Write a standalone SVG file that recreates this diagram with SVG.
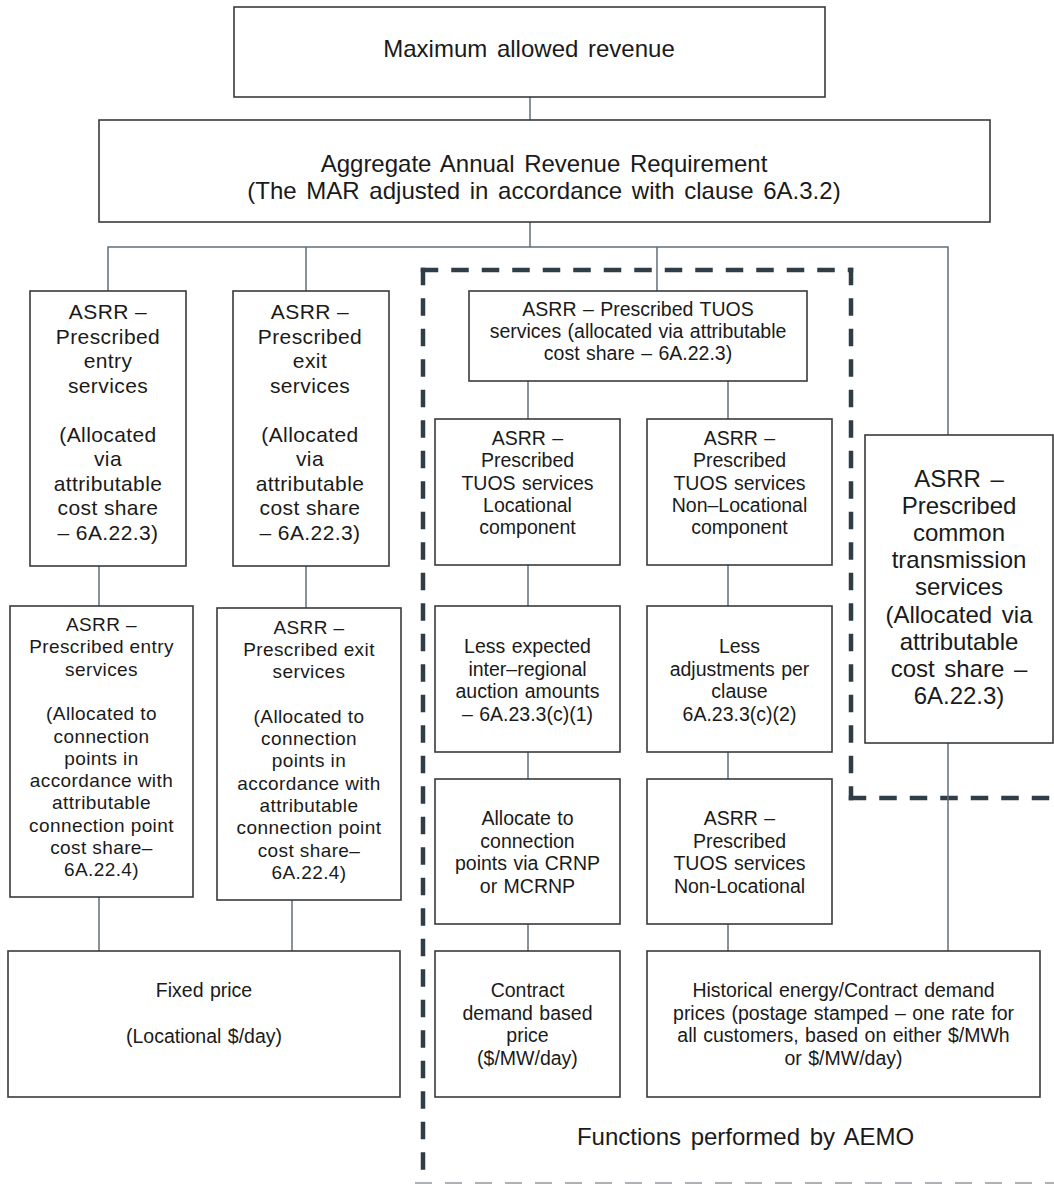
<svg xmlns="http://www.w3.org/2000/svg" width="1054" height="1187" viewBox="0 0 1054 1187">
<style>
.box{fill:#fff;stroke:#3a3a3a;stroke-width:1.6}
.conn{stroke:#5f6e7a;stroke-width:1.5;fill:none}
.dash{stroke:#2f3d47;stroke-width:4.5;fill:none;stroke-dasharray:13 17.5;stroke-linecap:square}
.dashl{stroke:#aeb2b6;stroke-width:2;fill:none;stroke-dasharray:17 13}
.t{font-family:"Liberation Sans",Arial,sans-serif;fill:#1a1a1a;text-anchor:middle}
.f23{font-size:24px;word-spacing:3px}
.f21{font-size:21px;letter-spacing:0.4px}
.f19{font-size:19px;letter-spacing:0.4px}
.f19n{font-size:19.5px;word-spacing:1px}
</style>
<rect width="1054" height="1187" fill="#fff"/>
<g id="aemo-region">
<path class="dash" d="M423,270 L851,270"/>
<path class="dash" d="M423,270 L423,1172"/>
<path class="dash" d="M851,270 L851,798"/>
<path class="dash" d="M851,798 L1054,798"/>
<path class="dashl" d="M415,1183 L1054,1183"/>
<text class="t f23" x="745.5" y="1145">Functions performed by AEMO</text>
</g>
<g id="connectors">
<path class="conn" d="M530,97 V120"/>
<path class="conn" d="M530,222 V247"/>
<path class="conn" d="M108,291 V247 H948 V435"/>
<path class="conn" d="M306,247 V291"/>
<path class="conn" d="M657,247 V291"/>
<path class="conn" d="M99,566 V606"/>
<path class="conn" d="M306,566 V608"/>
<path class="conn" d="M528,381 V419"/>
<path class="conn" d="M728,381 V419"/>
<path class="conn" d="M528,565 V606"/>
<path class="conn" d="M728,565 V606"/>
<path class="conn" d="M528,752 V779"/>
<path class="conn" d="M728,752 V779"/>
<path class="conn" d="M528,924 V951"/>
<path class="conn" d="M728,924 V951"/>
<path class="conn" d="M99,897 V951"/>
<path class="conn" d="M292,900 V951"/>
<path class="conn" d="M948,743 V951"/>
</g>
<g id="mar">
<rect class="box" x="234" y="7" width="591" height="90"/>
<text class="t f23" x="529" y="57">Maximum allowed revenue</text>
</g>
<g id="aarr">
<rect class="box" x="99" y="120" width="891" height="102"/>
<text class="t f23"><tspan x="544" y="172">Aggregate Annual Revenue Requirement</tspan><tspan x="544" y="199">(The MAR adjusted in accordance with clause 6A.3.2)</tspan></text>
</g>
<g id="entry1">
<rect class="box" x="30" y="291" width="156" height="275"/>
<text class="t f21"><tspan x="108" y="319">ASRR –</tspan><tspan x="108" y="343.5">Prescribed</tspan><tspan x="108" y="368">entry</tspan><tspan x="108" y="392.5">services</tspan><tspan x="108" y="441.5">(Allocated</tspan><tspan x="108" y="466">via</tspan><tspan x="108" y="490.5">attributable</tspan><tspan x="108" y="515">cost share</tspan><tspan x="108" y="539.5">– 6A.22.3)</tspan></text>
</g>
<g id="exit1">
<rect class="box" x="233" y="291" width="156" height="275"/>
<text class="t f21"><tspan x="310" y="319">ASRR –</tspan><tspan x="310" y="343.5">Prescribed</tspan><tspan x="310" y="368">exit</tspan><tspan x="310" y="392.5">services</tspan><tspan x="310" y="441.5">(Allocated</tspan><tspan x="310" y="466">via</tspan><tspan x="310" y="490.5">attributable</tspan><tspan x="310" y="515">cost share</tspan><tspan x="310" y="539.5">– 6A.22.3)</tspan></text>
</g>
<g id="entry2">
<rect class="box" x="10" y="606" width="183" height="291"/>
<text class="t f19"><tspan x="101.5" y="631">ASRR –</tspan><tspan x="101.5" y="653.3">Prescribed entry</tspan><tspan x="101.5" y="675.6">services</tspan><tspan x="101.5" y="720.2">(Allocated to</tspan><tspan x="101.5" y="742.5">connection</tspan><tspan x="101.5" y="764.8">points in</tspan><tspan x="101.5" y="787.1">accordance with</tspan><tspan x="101.5" y="809.4">attributable</tspan><tspan x="101.5" y="831.7">connection point</tspan><tspan x="101.5" y="854">cost share–</tspan><tspan x="101.5" y="876.3">6A.22.4)</tspan></text>
</g>
<g id="exit2">
<rect class="box" x="217" y="608" width="184" height="292"/>
<text class="t f19"><tspan x="309" y="633.5">ASRR –</tspan><tspan x="309" y="655.8">Prescribed exit</tspan><tspan x="309" y="678.1">services</tspan><tspan x="309" y="722.7">(Allocated to</tspan><tspan x="309" y="745">connection</tspan><tspan x="309" y="767.3">points in</tspan><tspan x="309" y="789.6">accordance with</tspan><tspan x="309" y="811.9">attributable</tspan><tspan x="309" y="834.2">connection point</tspan><tspan x="309" y="856.5">cost share–</tspan><tspan x="309" y="878.8">6A.22.4)</tspan></text>
</g>
<g id="tuos">
<rect class="box" x="469" y="291" width="338" height="90"/>
<text class="t f19n"><tspan x="638" y="316">ASRR – Prescribed TUOS</tspan><tspan x="638" y="338">services (allocated via attributable</tspan><tspan x="638" y="360">cost share – 6A.22.3)</tspan></text>
</g>
<g id="tuos-loc">
<rect class="box" x="435" y="419" width="185" height="146"/>
<text class="t f19n"><tspan x="527.5" y="445">ASRR –</tspan><tspan x="527.5" y="467.3">Prescribed</tspan><tspan x="527.5" y="489.6">TUOS services</tspan><tspan x="527.5" y="511.9">Locational</tspan><tspan x="527.5" y="534.2">component</tspan></text>
</g>
<g id="tuos-nonloc">
<rect class="box" x="647" y="419" width="185" height="146"/>
<text class="t f19n"><tspan x="739.5" y="445">ASRR –</tspan><tspan x="739.5" y="467.3">Prescribed</tspan><tspan x="739.5" y="489.6">TUOS services</tspan><tspan x="739.5" y="511.9">Non–Locational</tspan><tspan x="739.5" y="534.2">component</tspan></text>
</g>
<g id="common">
<rect class="box" x="865" y="435" width="188" height="308"/>
<text class="t f23"><tspan x="959" y="487">ASRR –</tspan><tspan x="959" y="514">Prescribed</tspan><tspan x="959" y="541">common</tspan><tspan x="959" y="568">transmission</tspan><tspan x="959" y="595">services</tspan><tspan x="959" y="623">(Allocated via</tspan><tspan x="959" y="650">attributable</tspan><tspan x="959" y="677">cost share –</tspan><tspan x="959" y="704">6A.22.3)</tspan></text>
</g>
<g id="less-auction">
<rect class="box" x="435" y="606" width="185" height="146"/>
<text class="t f19n"><tspan x="527.5" y="653">Less expected</tspan><tspan x="527.5" y="675.5">inter–regional</tspan><tspan x="527.5" y="698">auction amounts</tspan><tspan x="527.5" y="720.5">– 6A.23.3(c)(1)</tspan></text>
</g>
<g id="less-adjust">
<rect class="box" x="647" y="606" width="185" height="146"/>
<text class="t f19n"><tspan x="739.5" y="653">Less</tspan><tspan x="739.5" y="675.5">adjustments per</tspan><tspan x="739.5" y="698">clause</tspan><tspan x="739.5" y="720.5">6A.23.3(c)(2)</tspan></text>
</g>
<g id="allocate">
<rect class="box" x="435" y="779" width="185" height="145"/>
<text class="t f19n"><tspan x="527.5" y="825">Allocate to</tspan><tspan x="527.5" y="847.5">connection</tspan><tspan x="527.5" y="870">points via CRNP</tspan><tspan x="527.5" y="892.5">or MCRNP</tspan></text>
</g>
<g id="tuos-nl">
<rect class="box" x="647" y="779" width="185" height="145"/>
<text class="t f19n"><tspan x="739.5" y="825">ASRR –</tspan><tspan x="739.5" y="847.5">Prescribed</tspan><tspan x="739.5" y="870">TUOS services</tspan><tspan x="739.5" y="892.5">Non-Locational</tspan></text>
</g>
<g id="fixed">
<rect class="box" x="8" y="951" width="392" height="146"/>
<text class="t f19n"><tspan x="204" y="997">Fixed price</tspan><tspan x="204" y="1043">(Locational $/day)</tspan></text>
</g>
<g id="contract">
<rect class="box" x="435" y="951" width="185" height="146"/>
<text class="t f19n"><tspan x="527.5" y="997">Contract</tspan><tspan x="527.5" y="1019.5">demand based</tspan><tspan x="527.5" y="1042">price</tspan><tspan x="527.5" y="1064.5">($/MW/day)</tspan></text>
</g>
<g id="historical">
<rect class="box" x="647" y="951" width="393" height="146"/>
<text class="t f19n"><tspan x="843.5" y="997">Historical energy/Contract demand</tspan><tspan x="843.5" y="1019.5">prices (postage stamped – one rate for</tspan><tspan x="843.5" y="1042">all customers, based on either $/MWh</tspan><tspan x="843.5" y="1064.5">or $/MW/day)</tspan></text>
</g>
</svg>
